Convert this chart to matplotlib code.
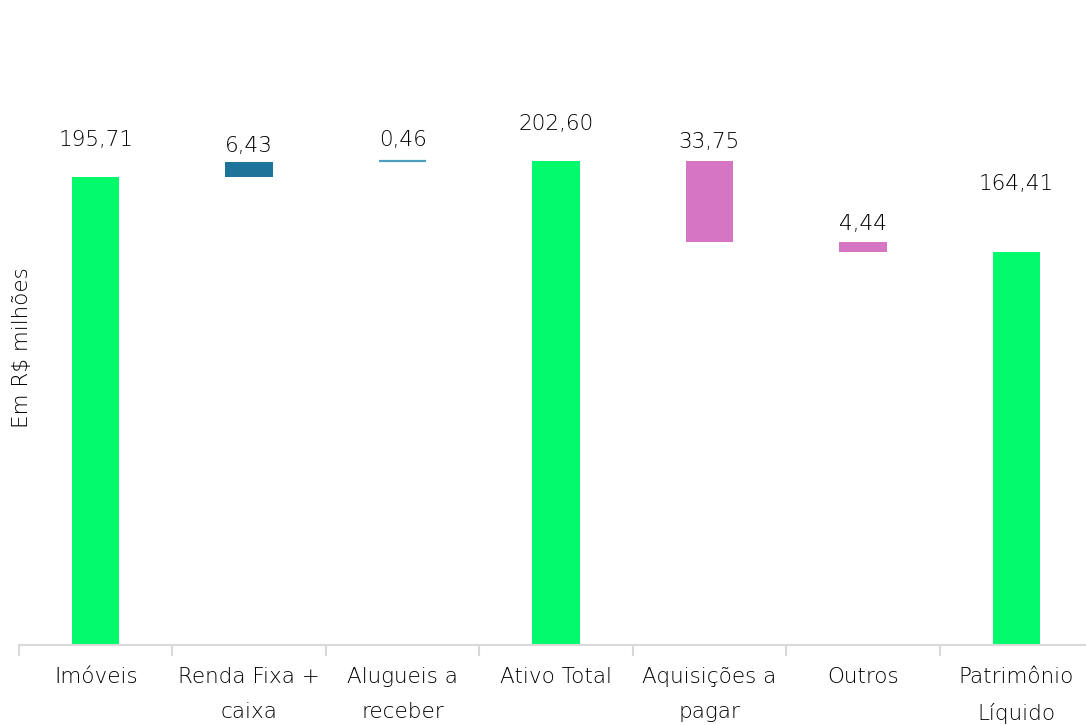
import matplotlib
matplotlib.use("Agg")
import matplotlib.pyplot as plt
import numpy as np

categories = ["Imóveis", "Renda Fixa +\ncaixa", "Alugueis a\nreceber", "Ativo Total",
              "Aquisições a\npagar", "Outros", "Patrimônio\nLíquido"]
values = [195.71, 6.43, 0.46, 202.60, -33.75, -4.44, 164.41]
kinds = ["total", "delta", "delta", "total", "delta", "delta", "total"]
labels = ["195,71", "6,43", "0,46", "202,60", "33,75", "4,44", "164,41"]

GREEN = "#00FA6C"
BLUE = "#1D7399"
LIGHTBLUE = "#4E9EBF"
PINK = "#D575C4"
TXT = "#000000"

plt.rcParams["font.family"] = ["DejaVu Sans"]
plt.rcParams["font.weight"] = "light"

fig = plt.figure(figsize=(10.86, 7.25), dpi=100)
W, H = 1086, 725
ax = fig.add_axes([19 / W, 1 - 645 / H, (1093 - 19) / W, 645 / H])

# waterfall bottoms / tops
bottoms, heights, colors = [], [], []
running = 0.0
for v, k in zip(values, kinds):
    if k == "total":
        bottoms.append(0.0)
        heights.append(v)
        running = v
        colors.append(GREEN)
    else:
        start = running
        running = running + v
        bottoms.append(min(start, running))
        heights.append(abs(v))
        colors.append(BLUE if v > 0 else PINK)
colors[2] = LIGHTBLUE

x = np.arange(len(categories))
ax.bar(x, heights, bottom=bottoms, width=0.31, color=colors, edgecolor="none")
# the tiny 0,46 bar shows as a thin line
ax.plot([x[2] - 0.155, x[2] + 0.155], [bottoms[2] + heights[2]] * 2,
        color=LIGHTBLUE, lw=1.6, solid_capstyle="butt")

# label offsets above bar tops (pixels)
offsets = [37, 16, 21, 37, 19, 18, 68]
for xi, b, h, lab, off in zip(x, bottoms, heights, labels, offsets):
    ax.annotate(lab, (xi, b + h), xytext=(0, off * 0.72), textcoords="offset points",
                ha="center", va="center", fontsize=15.5, color=TXT)

ax.set_xlim(-0.5, len(categories) - 0.5)
ax.set_ylim(0, 270)
ax.set_yticks([])
for s in ["top", "right", "left"]:
    ax.spines[s].set_visible(False)
ax.spines["bottom"].set_color("#D9D9D9")
ax.spines["bottom"].set_linewidth(1.5)

ax.set_xticks(np.arange(-0.5, len(categories), 1.0), minor=False)
ax.set_xticklabels([])
ax.tick_params(axis="x", which="major", length=8, width=1.5, color="#D9D9D9")
ax.set_xticks(x, minor=True)
ax.set_xticklabels(categories, minor=True, fontsize=15.5, color=TXT, linespacing=1.95)
ax.tick_params(axis="x", which="minor", length=0, pad=16)

fig.text(22 / W, 1 - 348 / H, "Em R$ milhões", rotation=90, ha="center", va="center",
         fontsize=15.5, color=TXT)

fig.savefig("out.png", dpi=100)
